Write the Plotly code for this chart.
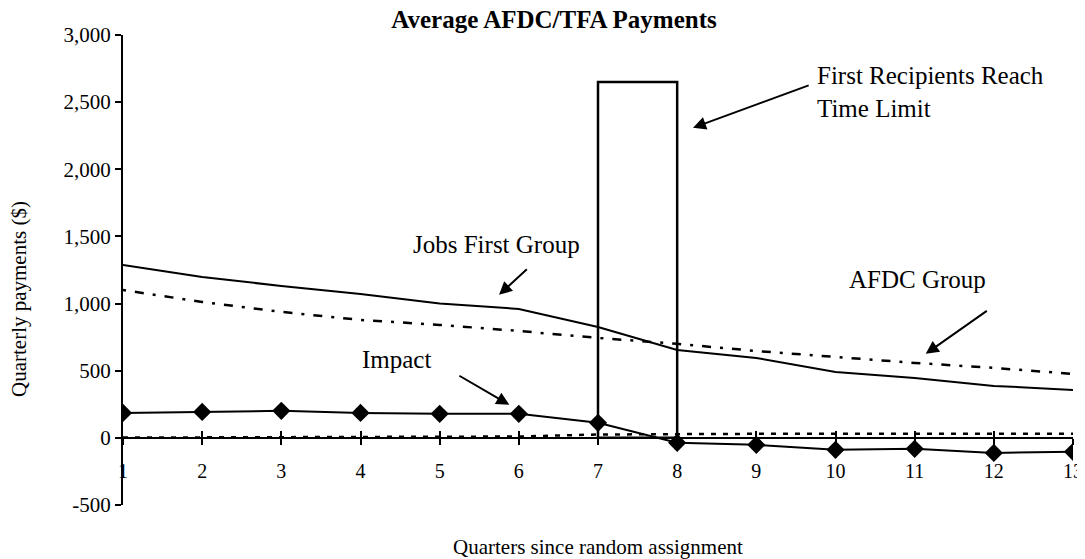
import plotly.graph_objects as go

# Quarters since random assignment
quarters = list(range(1, 14))

# Average quarterly payments ($)
jobs_first = [1287, 1198, 1131, 1071, 1000, 960, 826, 655, 595, 491, 446, 387, 357]
afdc_group = [1101, 1012, 938, 878, 841, 796, 744, 700, 647, 603, 558, 521, 476]
impact = [186, 193, 201, 186, 179, 179, 112, -37, -52, -89, -82, -112, -104]
near_zero = [2, 4, 5, 6, 8, 10, 25, 30, 30, 30, 30, 30, 30]

y_ticks = [-500, 0, 500, 1000, 1500, 2000, 2500, 3000]
y_tick_text = ["-500", "0", "500", "1,000", "1,500", "2,000", "2,500", "3,000"]

# time-limit box
limit_start, limit_end, limit_top = 7, 8, 2650

FONT = "Liberation Serif, Times New Roman, serif"
Y_MIN, Y_MAX = -500, 3000

# the page body has an 8px margin, so the figure is made 8px smaller
W, H = 1077, 551

fig = go.Figure()

fig.add_trace(
    go.Scatter(x=quarters, y=jobs_first, mode="lines",
               line=dict(color="black", width=2), name="Jobs First Group")
)
fig.add_trace(
    go.Scatter(x=quarters, y=afdc_group, mode="lines",
               line=dict(color="black", width=2.5, dash="3px,9px,9px,9px"),
               name="AFDC Group")
)
fig.add_trace(
    go.Scatter(x=quarters, y=impact, mode="lines+markers",
               line=dict(color="black", width=2),
               marker=dict(symbol="diamond", size=14, color="black"),
               name="Impact")
)
# sits on the overlaying axis so its inside ticks get drawn (crossing ticks)
fig.add_trace(
    go.Scatter(x=quarters, y=near_zero, mode="lines", xaxis="x2",
               line=dict(color="black", width=2.5, dash="5px,7px"),
               name="")
)

fig.add_shape(
    type="rect", xref="x", yref="y",
    x0=limit_start, x1=limit_end, y0=0, y1=limit_top,
    line=dict(color="black", width=2.5), fillcolor="rgba(0,0,0,0)",
)

x_pos = (0 - Y_MIN) / (Y_MAX - Y_MIN)

axis_common = dict(
    range=[1, 13], tickvals=quarters, showgrid=False, zeroline=False,
    showline=True, linecolor="black", linewidth=2,
    tickcolor="black", tickwidth=2, ticklen=6,
    anchor="free", position=x_pos, automargin=False,
)

fig.update_layout(
    width=W, height=H,
    margin=dict(l=115, r=12, t=27, b=54),
    paper_bgcolor="white", plot_bgcolor="white",
    showlegend=False,
    font=dict(family=FONT, color="black", size=20),
    title=dict(
        text="<b>Average AFDC/TFA Payments</b>",
        x=546 / W, xanchor="center", y=1, yanchor="top", pad=dict(t=2),
        font=dict(family=FONT, size=25, color="black"),
    ),
    xaxis=dict(**axis_common, ticks="outside", ticklabelstandoff=9,
               tickfont=dict(size=20)),
    xaxis2=dict(**axis_common, ticks="inside", overlaying="x",
                showticklabels=False),
    yaxis=dict(
        range=[Y_MIN, Y_MAX], tickvals=y_ticks, ticktext=y_tick_text,
        showgrid=False, zeroline=False, showline=True, linecolor="black",
        linewidth=2, ticks="outside", ticklen=6, tickwidth=2, tickcolor="black",
        tickfont=dict(size=21), automargin=False,
    ),
)

# axis titles as annotations
fig.add_annotation(text="Quarters since random assignment", xref="paper", yref="paper",
                   x=0.5, y=0, yshift=-42, showarrow=False, yanchor="middle",
                   font=dict(size=21))
fig.add_annotation(text="Quarterly payments ($)", xref="paper", yref="paper",
                   x=0, xshift=-104, y=(505 - 299) / 470, textangle=-90,
                   showarrow=False, xanchor="center", yanchor="middle",
                   font=dict(size=21))

# labels
labels = [
    ("First Recipients Reach<br>Time Limit", 9.74, 2577, "left"),
    ("Jobs First Group", 5.72, 1437, "center"),
    ("Impact", 4.45, 581, "center"),
    ("AFDC Group", 11.03, 1177, "center"),
]
for text, lx, ly, anchor in labels:
    fig.add_annotation(text=text, x=lx, y=ly, xref="x", yref="y", showarrow=False,
                       xanchor=anchor, yanchor="middle", align="left",
                       font=dict(size=25))

# arrows: (tail x, tail y) -> (head x, head y)
arrows = [
    (9.68, 2629, 8.20, 2309),
    (6.12, 1266, 5.75, 1065),
    (5.23, 469, 5.88, 246),
    (11.93, 953, 11.14, 626),
]
for ax, ay, hx, hy in arrows:
    fig.add_annotation(text="", x=hx, y=hy, ax=ax, ay=ay, xref="x", yref="y",
                       axref="x", ayref="y", showarrow=True, arrowhead=2,
                       arrowsize=1.3, arrowwidth=2, arrowcolor="black")

fig.write_html("out.html")
